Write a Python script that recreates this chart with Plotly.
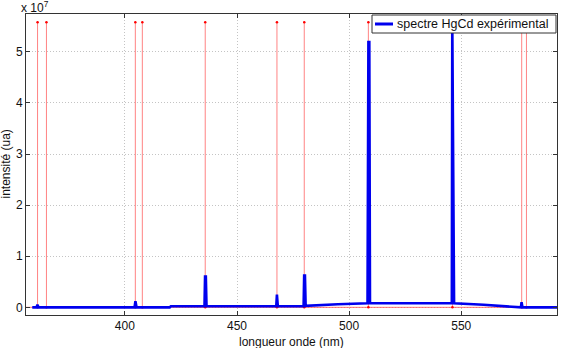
import plotly.graph_objects as go

# Experimental spectrum (intensity in units of 1e7)
spec_nm = [358.7, 360.6, 361.0, 361.5, 404.3, 404.7, 405.2, 420.0, 420.5,
           435.5, 435.75, 436.1, 436.4, 467.5, 467.8, 468.2, 479.7, 479.95,
           480.3, 480.6, 495.0, 508.2, 508.4, 508.6, 509.0, 509.3, 530.0,
           545.8, 546.0, 546.4, 546.8, 560.0, 574.0, 576.6, 576.9, 577.3, 593.0]
spec_int = [0.0, 0.0, 0.05, 0.0, 0.0, 0.12, 0.0, 0.0, 0.02,
            0.02, 0.6, 0.6, 0.02, 0.02, 0.25, 0.02, 0.02, 0.62,
            0.62, 0.03, 0.06, 0.08, 2.6, 5.19, 5.19, 0.08, 0.08,
            0.08, 5.6, 2.8, 0.08, 0.05, 0.0, 0.0, 0.1, 0.0, 0.0]

# Reference Hg / Cd lines
ref_nm = [361.05, 365.02, 404.66, 407.78, 435.83, 467.81, 479.99,
          508.58, 546.07, 576.96, 579.07]
ref_height = 5.58

xticks = [400, 450, 500, 550]
yticks = [0, 1, 2, 3, 4, 5]
series_name = "spectre HgCd expérimental"

stem_x, stem_y = [], []
for w in ref_nm:
    stem_x += [w, w, None]
    stem_y += [0, ref_height, None]

FONT = "Liberation Sans, Arial, sans-serif"
XR = [355.9, 592.7]
YR = [-0.15, 5.74]
fig = go.Figure()
fig.add_trace(go.Scatter(x=XR, y=[0, 0], mode="lines",
                         line=dict(color="rgba(255,80,80,0.8)", width=1),
                         showlegend=False, hoverinfo="skip"))
fig.add_trace(go.Scatter(x=stem_x, y=stem_y, mode="lines",
                         line=dict(color="rgba(255,100,100,0.8)", width=1),
                         showlegend=False, hoverinfo="skip"))
fig.add_trace(go.Scatter(x=ref_nm + ref_nm, y=[ref_height] * len(ref_nm) + [0] * len(ref_nm),
                         mode="markers", marker=dict(color="red", size=2.5),
                         showlegend=False, hoverinfo="skip"))
fig.add_trace(go.Scatter(x=spec_nm, y=spec_int, mode="lines",
                         line=dict(color="#0000ee", width=2.6),
                         name=series_name, showlegend=False))

axis_common = dict(showline=True, linecolor="#333", linewidth=1, mirror="ticks",
                   ticks="inside", ticklen=4, tickcolor="#333",
                   showgrid=True, gridcolor="#c4c4c4", griddash="1px,2px", gridwidth=1,
                   zeroline=False, tickfont=dict(family=FONT, size=12, color="#111"),
                   automargin=False)

# legend box geometry in paper coords (plot spans x 26..557, y 14..315)
def px_x(p):
    return (p - 26) / 531.0
def px_y(p):
    return (315 - p) / 301.0

fig.update_layout(
    width=564, height=348,
    margin=dict(l=26, r=7, t=14, b=33),
    paper_bgcolor="white", plot_bgcolor="white",
    font=dict(family=FONT, size=12, color="#111"),
    xaxis=dict(range=XR, tickvals=xticks, **axis_common),
    yaxis=dict(range=YR, tickvals=yticks, **axis_common),
    showlegend=False,
    shapes=[
        dict(type="rect", xref="paper", yref="paper", layer="above",
             x0=px_x(372), x1=px_x(556), y0=px_y(33), y1=px_y(15),
             fillcolor="white", line=dict(color="#333", width=1)),
        dict(type="line", xref="paper", yref="paper", layer="above",
             x0=px_x(375), x1=px_x(393), y0=px_y(24), y1=px_y(24),
             line=dict(color="#0000ee", width=3)),
    ],
    annotations=[
        dict(text=series_name, x=px_x(395), y=px_y(24), xref="paper", yref="paper",
             xanchor="left", yanchor="middle", showarrow=False,
             font=dict(family=FONT, size=12.5, color="#111")),
        dict(text="longueur onde (nm)", x=0.5, y=0, xref="paper", yref="paper",
             xanchor="center", yanchor="top", yshift=-18, showarrow=False,
             font=dict(family=FONT, size=12, color="#111")),
        dict(text="intensité (ua)", x=0, y=0.5, xref="paper", yref="paper",
             xanchor="right", yanchor="middle", xshift=-12, textangle=-90,
             showarrow=False, font=dict(family=FONT, size=12, color="#111")),
        dict(text="x 10<sup>7</sup>", x=0, y=1, xref="paper", yref="paper",
             xanchor="left", yanchor="bottom", xshift=-7, yshift=-3, showarrow=False,
             font=dict(family=FONT, size=12, color="#111")),
    ],
)

fig.write_html("out.html")
